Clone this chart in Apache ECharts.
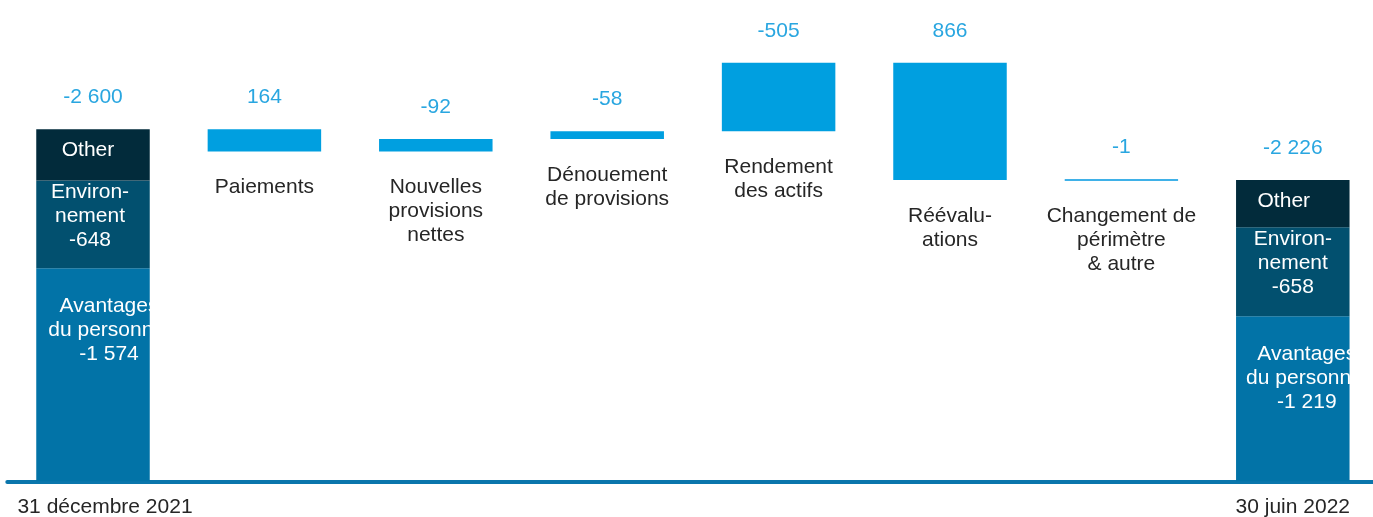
<!DOCTYPE html>
<html>
<head>
<meta charset="utf-8">
<script src="https://cdn.jsdelivr.net/npm/echarts@6/dist/echarts.min.js"></script>
<style>
  html, body { margin: 0; padding: 0; background: #ffffff; }
  #chart { width: 1373px; height: 517px; }
</style>
</head>
<body>
<div id="chart"></div>
<script>
// ---- data ----
const categories = ['31 décembre 2021', 'Paiements', 'Nouvelles\nprovisions\nnettes', 'Dénouement\nde provisions', 'Rendement\ndes actifs', 'Réévalu-\nations', 'Changement de\npérimètre\n& autre', '30 juin 2022'];
const totals = [-2600, -2226];          // opening, closing
const avantages = [-1574, -1219];       // Avantages du personnel
const environnement = [-648, -658];     // Environnement
const changes = [164, -92, -58, -505, 866, -1]; // movements between the two dates

// ---- derived series for the waterfall ----
const other = totals.map((t, i) => t - avantages[i] - environnement[i]);
const n = categories.length;
const baseData = [], deltaData = [];
const avData = [], envData = [], othData = [], totData = [];
for (let i = 0; i < n; i++) { baseData.push('-'); deltaData.push('-'); avData.push('-'); envData.push('-'); othData.push('-'); totData.push('-'); }
avData[0] = -avantages[0]; avData[n - 1] = -avantages[1];
envData[0] = -environnement[0]; envData[n - 1] = -environnement[1];
othData[0] = -other[0]; othData[n - 1] = -other[1];
totData[0] = 0; totData[n - 1] = 0;
let running = -totals[0];
changes.forEach((d, k) => {
  const next = running - d;
  baseData[k + 1] = Math.min(running, next);
  deltaData[k + 1] = Math.abs(d);
  running = next;
});
deltaData[6] = { value: Math.abs(changes[5]), itemStyle: { color: '#3fb1e8', borderColor: '#3fb1e8', borderWidth: 2 } };

function fmt(v) {
  const s = String(Math.abs(v)).replace(/\B(?=(\d{3})+(?!\d))/g, ' ');
  return (v < 0 ? '-' : '') + s;
}

const FONT = "'Liberation Sans', Arial, sans-serif";
const BW = 113.5;
const inTxt = { fontSize: 21, lineHeight: 24, fontFamily: FONT, color: '#ffffff', textBorderWidth: 0, textShadowBlur: 0 };

const chart = echarts.init(document.getElementById('chart'));
chart.setOption({
  animation: false,
  backgroundColor: '#ffffff',
  grid: { left: 7.3, right: -5.5, top: 7.5, bottom: 35.7, containLabel: false, outerBoundsMode: 'none' },
  xAxis: {
    type: 'category',
    data: categories.map((c, i) => (i === 0 ? { value: c, textStyle: { padding: [0, 0, 0, 24] } } : c)),
    axisTick: { show: false },
    axisLine: { lineStyle: { color: '#0a76ac', width: 4 } },
    axisLabel: {
      interval: 0, margin: 14, fontSize: 21, lineHeight: 24, fontFamily: FONT, color: '#262626',
      hideOverlap: false,
      formatter: (v, i) => (i === 0 || i === n - 1 ? v : '')
    }
  },
  yAxis: { type: 'value', min: 0, max: 3500, show: false, splitLine: { show: false } },
  series: [
    {
      name: 'base', type: 'bar', stack: 'w', barWidth: BW, silent: true,
      itemStyle: { color: 'transparent' },
      label: {
        show: true, position: 'insideTop', distance: 24, fontSize: 21, lineHeight: 24, fontFamily: FONT, color: '#262626',
        textBorderWidth: 0,
        formatter: p => (p.dataIndex > 0 && p.dataIndex < n - 1 ? categories[p.dataIndex] : '')
      },
      data: baseData
    },
    {
      name: 'Avantages du personnel', type: 'bar', stack: 'w', barWidth: BW,
      itemStyle: { color: '#0273a7' },
      label: Object.assign({
        show: true, position: 'insideTop', distance: 26,
        formatter: p => 'Avantages\ndu personnel\n' + fmt(p.dataIndex === 0 ? avantages[0] : avantages[1])
      }, inTxt),
      data: avData.map((v, i) => (v === '-' ? v : { value: v, label: { offset: [i === 0 ? 16 : 14, 0] } }))
    },
    {
      name: 'Environnement', type: 'bar', stack: 'w', barWidth: BW,
      itemStyle: { color: '#02506f' },
      label: Object.assign({
        show: true, position: 'insideTop', distance: 0,
        formatter: p => 'Environ-\nnement\n' + fmt(p.dataIndex === 0 ? environnement[0] : environnement[1])
      }, inTxt),
      data: envData.map((v, i) => (v === '-' ? v : { value: v, label: { offset: [i === 0 ? -3 : 0, 0] } }))
    },
    {
      name: 'Other', type: 'bar', stack: 'w', barWidth: BW,
      itemStyle: { color: '#022b3b' },
      label: Object.assign({
        show: true, position: 'insideTop', distance: 9,
        formatter: () => 'Other'
      }, inTxt),
      data: othData.map((v, i) => (v === '-' ? v : { value: v, label: { offset: [i === 0 ? -5 : -9, 0] } }))
    },
    {
      name: 'delta', type: 'bar', stack: 'w', barWidth: BW,
      itemStyle: { color: '#009fe0' },
      label: {
        show: true, position: 'top', distance: 20, fontSize: 21, lineHeight: 24, fontFamily: FONT, color: '#29a6e0',
        formatter: p => fmt(changes[p.dataIndex - 1])
      },
      data: deltaData
    },
    {
      name: 'totals', type: 'bar', stack: 'w', barWidth: BW, silent: true,
      itemStyle: { color: 'transparent' },
      label: {
        show: true, position: 'top', distance: 20, fontSize: 21, lineHeight: 24, fontFamily: FONT, color: '#29a6e0',
        formatter: p => fmt(p.dataIndex === 0 ? totals[0] : totals[1])
      },
      data: totData
    }
  ]
});
</script>
</body>
</html>
